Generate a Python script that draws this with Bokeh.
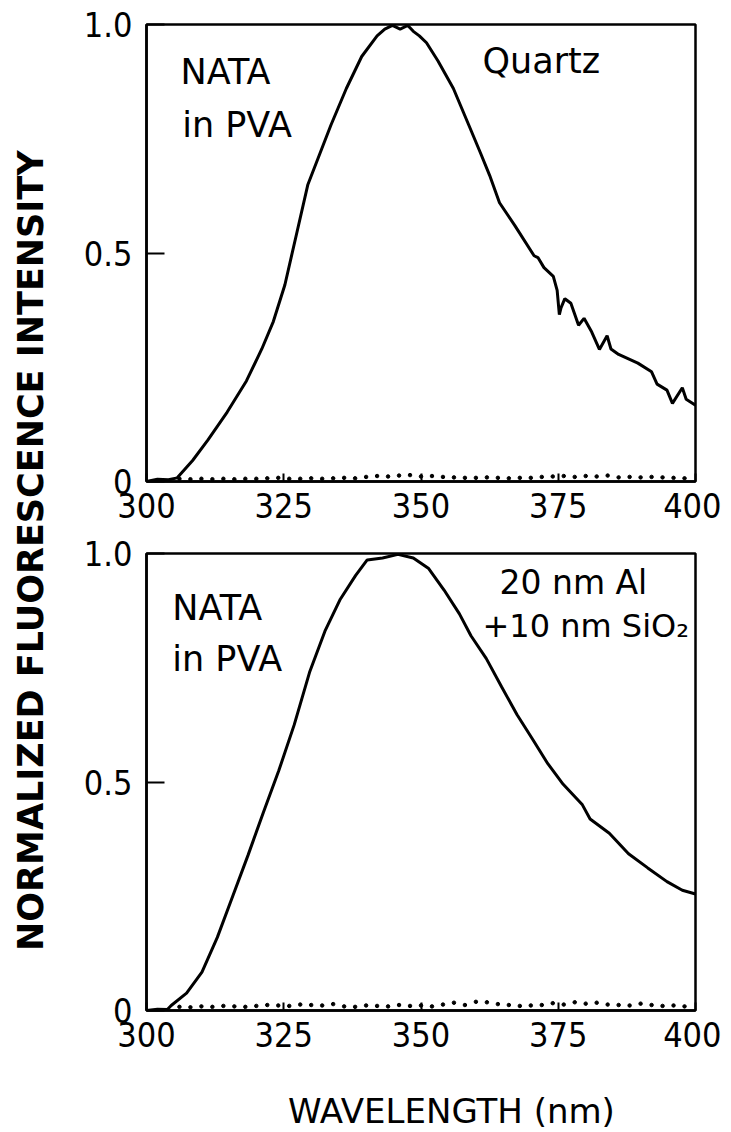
import math
from bokeh.plotting import figure
from bokeh.models import Range1d, FixedTicker, Label
from bokeh.layouts import row, column
from bokeh.embed import file_html
from bokeh.resources import INLINE

# ---------------- data ----------------
quartz_wl = [300, 302, 304, 305.6, 308.4, 311.2, 314.7, 318.2, 321.0, 323.1, 325.2,
             327.3, 329.4, 331.5, 333.6, 336.4, 339.2, 342.0, 343.4, 344.8, 346.2,
             347.6, 348.6, 349.7, 351.0, 353.1, 355.9, 358.7, 360.8, 362.5, 364.3,
             367.1, 370.6, 371.3, 372.4, 374.1, 374.8, 375.2, 375.5, 376.2, 377.3,
             378.7, 379.7, 381.1, 382.5, 383.9, 384.6, 386.0, 389.5, 392.0, 393.0,
             394.8, 395.8, 397.6, 398.3, 400.0]
quartz_int = [0.0, 0.005, 0.004, 0.008, 0.046, 0.091, 0.152, 0.22, 0.29, 0.35, 0.43,
              0.54, 0.65, 0.715, 0.78, 0.86, 0.93, 0.975, 0.99, 0.998, 0.99,
              0.998, 0.985, 0.975, 0.96, 0.92, 0.86, 0.78, 0.72, 0.67, 0.61,
              0.56, 0.494, 0.49, 0.468, 0.449, 0.418, 0.365, 0.38, 0.40, 0.39,
              0.342, 0.357, 0.327, 0.289, 0.319, 0.29, 0.278, 0.259, 0.24, 0.213,
              0.20, 0.171, 0.205, 0.18, 0.167]

al_wl = [300, 302, 303.8, 304.5, 307.3, 310.1, 312.9, 315.7, 318.5, 321.3, 324.1,
         326.9, 329.7, 332.5, 335.3, 338.1, 340.2, 343.0, 345.8, 348.6, 351.4,
         354.2, 357.0, 359.1, 361.9, 364.7, 367.5, 370.3, 373.1, 375.9, 379.4,
         380.8, 384.3, 387.8, 391.3, 394.8, 397.6, 400.0]
al_int = [0.0, 0.003, 0.002, 0.011, 0.038, 0.084, 0.16, 0.25, 0.34, 0.434, 0.525,
          0.625, 0.74, 0.83, 0.90, 0.952, 0.986, 0.99, 0.998, 0.99, 0.967,
          0.92, 0.868, 0.82, 0.77, 0.708, 0.647, 0.594, 0.54, 0.495, 0.45,
          0.419, 0.388, 0.343, 0.312, 0.282, 0.263, 0.255]

# background (dotted) traces
bg_wl = [306, 308, 310, 312, 314, 316, 318, 320, 322, 324, 326, 328, 330, 332, 334,
         336, 338, 340, 342, 344, 346, 348, 350, 352, 354, 356, 358, 360, 362, 364,
         366, 368, 370, 372, 374, 376, 378, 380, 382, 384, 386, 388, 390, 392, 394,
         396, 398]
bg_quartz = [0.006, 0.005, 0.006, 0.005, 0.006, 0.005, 0.006, 0.006, 0.007, 0.008, 0.006,
             0.006, 0.007, 0.006, 0.007, 0.008, 0.007, 0.010, 0.012, 0.011, 0.013, 0.014,
             0.011, 0.012, 0.010, 0.009, 0.008, 0.008, 0.009, 0.008, 0.007, 0.008, 0.008,
             0.010, 0.011, 0.012, 0.010, 0.012, 0.011, 0.013, 0.009, 0.010, 0.009, 0.010,
             0.009, 0.008, 0.007]
bg_al = [0.008, 0.007, 0.009, 0.008, 0.010, 0.009, 0.008, 0.010, 0.012, 0.011, 0.010,
         0.013, 0.012, 0.011, 0.014, 0.009, 0.008, 0.011, 0.010, 0.009, 0.012, 0.010,
         0.011, 0.009, 0.013, 0.017, 0.012, 0.019, 0.018, 0.014, 0.012, 0.010, 0.011,
         0.012, 0.016, 0.013, 0.018, 0.015, 0.017, 0.013, 0.012, 0.011, 0.015, 0.012,
         0.010, 0.011, 0.009]

x_ticks = [300, 325, 350, 375, 400]
y_ticks = [0, 0.5, 1.0]
y_tick_labels = {0: "0", 0.5: "0.5", 1: "1.0"}

FONT = "DejaVu Sans"
TICKFONT = "DejaVu Sans Condensed"
PW = 668


def make_panel(wl, inten, bg, border_top, height, border_bottom):
    p = figure(width=PW, height=height, output_backend="svg", toolbar_location=None,
               x_range=Range1d(300, 400), y_range=Range1d(0, 1.0),
               min_border_left=93, min_border_right=26,
               min_border_top=border_top, min_border_bottom=border_bottom)
    p.background_fill_color = "white"
    p.border_fill_color = "white"
    p.grid.visible = False
    p.outline_line_color = "black"
    p.outline_line_width = 2.5
    for ax in (p.xaxis[0], p.yaxis[0]):
        ax.axis_line_width = 2.5
        ax.axis_line_color = "black"
        ax.major_tick_out = 0
        ax.minor_tick_out = 0
        ax.minor_tick_in = 0
        ax.major_tick_line_width = 2
        ax.major_label_text_font = TICKFONT
        ax.major_label_text_font_size = "34px"
        ax.major_label_text_color = "black"
    p.xaxis.ticker = FixedTicker(ticks=x_ticks)
    p.yaxis.ticker = FixedTicker(ticks=y_ticks)
    p.yaxis.major_label_overrides = y_tick_labels
    p.xaxis.major_tick_in = 8
    p.yaxis.major_tick_in = 18
    p.xaxis.major_label_standoff = 11
    p.yaxis.major_label_standoff = 14
    p.line(wl, inten, line_color="black", line_width=3)
    p.scatter(bg_wl, bg, size=3.5, color="black")
    return p


top = make_panel(quartz_wl, quartz_int, bg_quartz, 24, 533, 52)
bot = make_panel(al_wl, al_int, bg_al, 20, 537, 60)


def lab(p, x, y, t, size="35px"):
    p.add_layout(Label(x=x, y=y, text=t, text_font=FONT, text_font_size=size,
                       text_color="black", text_baseline="alphabetic", text_align="left"))


lab(top, 306.2, 0.895, "NATA")
lab(top, 306.5, 0.781, "in PVA")
lab(top, 361.2, 0.921, "Quartz")

lab(bot, 304.7, 0.880, "NATA")
lab(bot, 304.7, 0.770, "in PVA")
lab(bot, 364.3, 0.937, "20 nm  Al", "33px")
lab(bot, 361.2, 0.842, "+10 nm  SiO\u2082", "32px")

# x axis title (separate strip below the bottom panel)
xt = figure(width=PW, height=60, output_backend="svg", toolbar_location=None,
            x_range=Range1d(0, PW), y_range=Range1d(0, 60),
            min_border=0, min_border_left=0, min_border_right=0,
            min_border_top=0, min_border_bottom=0)
xt.axis.visible = False
xt.grid.visible = False
xt.outline_line_color = None
xt.background_fill_color = "white"
xt.border_fill_color = "white"
xt.add_layout(Label(x=371, y=20, text="WAVELENGTH (nm)", text_font=FONT,
                    text_font_size="34px", text_color="black",
                    text_align="center", text_baseline="middle"))

# shared y axis title
yt = figure(width=53, height=1130, output_backend="svg", toolbar_location=None,
            x_range=Range1d(0, 53), y_range=Range1d(0, 1130),
            min_border=0, min_border_left=0, min_border_right=0,
            min_border_top=0, min_border_bottom=0)
yt.axis.visible = False
yt.grid.visible = False
yt.outline_line_color = None
yt.background_fill_color = "white"
yt.border_fill_color = "white"
yt.add_layout(Label(x=30, y=592, text="NORMALIZED  FLUORESCENCE  INTENSITY",
                    angle=math.pi / 2, text_font=FONT, text_font_size="35px",
                    text_font_style="bold", text_color="black",
                    text_align="center", text_baseline="middle"))

layout = row(yt, column(top, bot, xt))
open("out.html", "w").write(file_html(layout, INLINE))
